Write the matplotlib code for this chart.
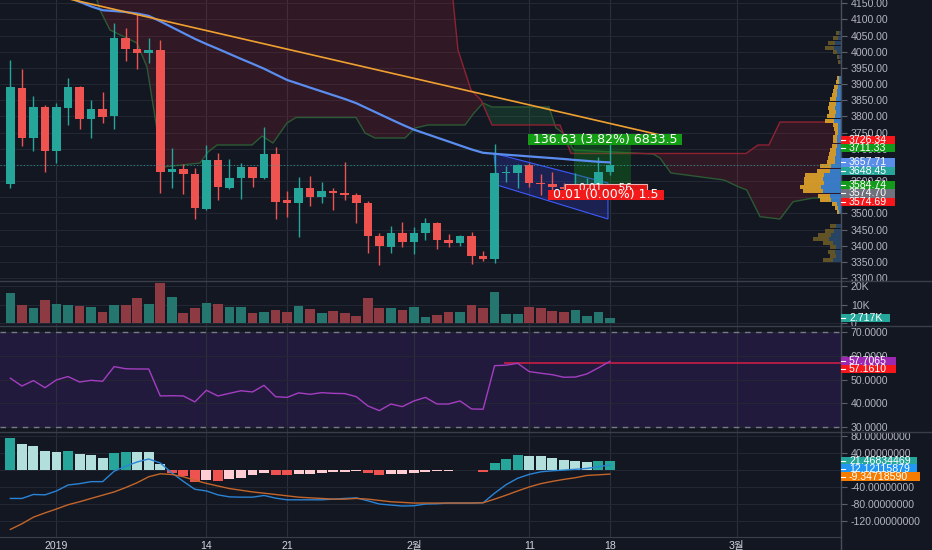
import numpy as np
import matplotlib
matplotlib.use("Agg")
import matplotlib.pyplot as plt
from matplotlib.patches import Rectangle, Polygon
from matplotlib.lines import Line2D
from matplotlib.transforms import IdentityTransform, blended_transform_factory
from matplotlib.ticker import FuncFormatter

plt.rcParams['font.family'] = ['Liberation Sans', 'Noto Sans CJK KR']

# ---------------- data ----------------
day = np.arange(-4, 49)  # 0 = 2019-01-01, daily candles
opens = [3590.9, 3888.9, 3732.3, 3830.1, 3693.0, 3827.0, 3892.0, 3791.1, 3822.0, 3801.3,
         4043.6, 4007.7, 3995.3, 4005.5, 3628.0, 3636.4, 3621.0, 3513.6, 3665.2, 3579.5,
         3610.4, 3642.6, 3608.5, 3683.7, 3541.4, 3533.0, 3577.6, 3551.6, 3570.2, 3564.0,
         3556.9, 3531.2, 3430.0, 3397.0, 3438.4, 3412.4, 3438.4, 3469.3, 3417.6, 3409.3,
         3430.0, 3368.1, 3358.9, 3624.0, 3625.9, 3649.7, 3593.1, 3590.0, 3583.0, 3574.7,
         3584.7, 3591.0, 3627.0]
closes = [3890.1, 3732.3, 3830.1, 3693.0, 3828.2, 3890.1, 3791.1, 3822.0, 3799.1, 4043.6,
          4007.7, 3995.3, 4005.5, 3627.1, 3636.4, 3621.0, 3515.7, 3665.2, 3582.6, 3610.4,
          3642.6, 3608.5, 3683.7, 3536.1, 3533.0, 3577.6, 3551.6, 3570.2, 3564.0, 3556.9,
          3531.2, 3430.0, 3399.1, 3438.4, 3412.4, 3438.4, 3469.3, 3417.6, 3409.3, 3430.0,
          3368.1, 3358.9, 3624.0, 3625.9, 3649.7, 3593.1, 3590.0, 3582.6, 3574.7, 3584.7,
          3591.0, 3627.0, 3648.45]
highs = [3974.6, 3946.7, 3864.1, 3835.3, 3842.5, 3918.0, 3894.0, 3850.8, 3876.5, 4090.0,
         4072.6, 4119.0, 4041.7, 4036.5, 3701.4, 3652.0, 3641.3, 3711.6, 3685.9, 3668.3,
         3656.8, 3644.4, 3768.2, 3704.8, 3570.2, 3611.6, 3615.7, 3598.0, 3577.6, 3658.0,
         3562.1, 3538.3, 3440.2, 3461.0, 3474.3, 3458.8, 3484.8, 3472.4, 3435.3, 3432.0,
         3441.5, 3383.6, 3713.7, 3646.6, 3652.0, 3655.0, 3621.0, 3629.0, 3595.0, 3624.0,
         3608.5, 3675.4, 3716.0]
lows = [3578.5, 3708.5, 3694.0, 3628.0, 3655.0, 3773.5, 3760.2, 3732.3, 3778.7, 3760.2,
        3971.5, 3946.7, 3964.4, 3562.1, 3577.6, 3559.0, 3482.6, 3510.0, 3541.4, 3575.4,
        3543.6, 3582.6, 3605.0, 3482.6, 3489.7, 3427.9, 3523.8, 3533.0, 3510.5, 3541.4,
        3471.2, 3376.5, 3340.3, 3376.5, 3397.0, 3373.4, 3417.6, 3388.9, 3397.0, 3400.0,
        3342.5, 3352.7, 3345.6, 3598.0, 3579.5, 3582.6, 3556.9, 3560.0, 3545.0, 3560.0,
        3570.0, 3585.0, 3618.8]
volumes = [16400, 9650, 8400, 12500, 10500, 9800, 9300, 8700, 6100, 10000,
           9800, 13700, 10300, 21400, 14300, 5700, 8200, 10700, 10500, 8700,
           8700, 5500, 6100, 7100, 6100, 9400, 7800, 5700, 6600, 5500,
           4100, 13400, 8200, 8200, 7100, 8700, 3600, 4500, 5900, 5900,
           9800, 8400, 17000, 4800, 5200, 8700, 8200, 6800, 5900, 7100,
           4100, 6100, 2717]
ma_values = [np.nan, np.nan, np.nan, np.nan,
             4185, 4169, 4154.6, 4140.4, 4128.6, 4126, 4123, 4118.4, 4111, 4094.3,
             4076, 4058, 4040, 4024, 4009, 3993.5, 3978, 3963, 3947.6, 3930,
             3912.7, 3901, 3889, 3877.4, 3865.7, 3854, 3841, 3824.2, 3807.5, 3790.8,
             3774.4, 3759, 3746.8, 3734.5, 3722.4, 3710, 3697.8, 3687.4, 3684.4, 3681.5,
             3679, 3676.3, 3673.6, 3671, 3668.3, 3665.2, 3662.4, 3659.6, 3657.71]
rsi = [50.6, 47.3, 49.6, 46.6, 49.9, 51.3, 49.0, 49.7, 49.3, 55.5,
       54.6, 54.5, 54.5, 43.1, 43.2, 43.1, 40.6, 45.5, 43.1, 44.2,
       45.3, 44.8, 47.6, 42.8, 42.5, 44.4, 43.8, 44.5, 44.2, 44.1,
       42.8, 38.9, 36.9, 39.7, 38.6, 41.0, 42.5, 39.7, 39.7, 41.0,
       37.6, 37.5, 55.9, 56.1, 56.9, 53.4, 52.7, 52.1, 51.0, 51.1,
       52.4, 55.0, 57.7065]
macd_hist = [74.7, 61.5, 56.9, 43.7, 43.0, 45.3, 38.4, 34.5, 29.1, 39.1,
             43.0, 42.5, 41.5, 14.6, -6.2, -14.0, -27.0, -24.0, -25.0, -20.0,
             -17.8, -12.5, -7.9, -11.8, -12.5, -8.6, -8.6, -6.3, -4.9, -3.3,
             -2.5, -7.9, -11.8, -10.2, -8.6, -6.3, -4.0, -2.5, -1.7, 1.3,
             -0.5, -3.3, 16.8, 26.1, 34.5, 34.0, 32.2, 28.4, 23.8, 21.5,
             19.2, 20.6, 21.46834469]
macd_line = [-66.4, -66.4, -57.1, -58.0, -48.8, -34.9, -31.7, -27.0, -27.0, -2.5,
             9.0, 19.2, 26.1, 16.8, -6.3, -26.4, -44.9, -48.8, -58.0, -62.7,
             -63.4, -63.4, -59.4, -65.7, -69.6, -69.6, -69.6, -69.6, -68.0, -66.4,
             -65.0, -71.9, -79.5, -81.8, -84.2, -83.5, -79.5, -78.8, -77.2, -77.2,
             -77.2, -76.5, -54.0, -34.0, -19.0, -10.0, -4.0, -1.5, 0.0, 2.0,
             4.0, 8.0, 12.12115879]
macd_signal = [-139.0, -125.8, -110.3, -100.3, -91.1, -81.2, -74.2, -66.4, -58.7, -51.1,
               -40.9, -29.4, -15.5, -8.6, -10.2, -15.5, -24.0, -31.0, -37.2, -43.2,
               -47.2, -51.1, -54.1, -57.1, -60.3, -63.4, -65.0, -66.4, -68.0, -68.0,
               -66.4, -68.0, -71.0, -74.2, -75.6, -77.2, -77.2, -77.2, -77.2, -77.2,
               -77.2, -76.5, -68.0, -58.7, -48.8, -39.5, -31.7, -26.4, -21.7, -17.8,
               -12.5, -11.0, -9.34718590]

# Ichimoku cloud spans (day, price) vertices
span_a_d = [-5.0, 3.25, 3.51, 3.77, 4.64, 6.98, 7.85, 8.54, 9.24, 12.45, 13.14, 13.92, 16.96,
            17.82, 18.78, 19.99, 20.77, 25.98, 26.76, 27.62, 30.23, 31.09, 32.22, 35.43,
            36.21, 36.99, 37.77, 42.71, 43.32, 43.93, 44.88, 51.74, 52.34, 53.29, 57.89,
            59.19, 59.86, 61.02, 62.75, 63.88, 65.62, 68.1]
span_a_p = [4400, 4191, 4160.2, 4129.3, 4067.4, 4027.2, 3952.9, 3798.2, 3643.5, 3655.9,
            3689.9, 3711.6, 3711.6, 3739.4, 3717.8, 3779.7, 3796.7, 3796.7, 3748.7, 3733.2,
            3733.2, 3764.2, 3773.5, 3773.5, 3810.6, 3841.5, 3829.2, 3829.2, 3764.2, 3748.7,
            3696.1, 3683.7, 3671.4, 3625.0, 3603.3, 3581.6, 3572.4, 3489.7, 3482.6, 3536.1,
            3547.6, 3547.6]
span_b_d = [-5.0, 34.0, 34.22, 34.39, 34.82, 35.95, 36.82, 37.77, 43.67, 44.62, 59.8, 60.84,
            61.79, 62.75, 68.1]
span_b_p = [4400, 4400, 4222, 4160.2, 4005.5, 3881.8, 3850.8, 3773.5, 3773.5, 3685.3,
            3685.3, 3711.6, 3711.6, 3782.7, 3782.7]

# drawings
trend_d = [0.0, 52.35]
trend_p = [4172.5, 3742.5]
channel_d = [37.94, 47.83, 47.83, 38.2]
channel_p = [3685.9, 3594.0, 3482.6, 3587.8]
pos_d = [44.9, 49.8]
pos_entry = 3574.70
pos_target = 3711.33
pos_stop = 3574.69
pos_gain_text = "136.63 (3.82%) 6833.5"
pos_loss_text = "0.01 (0.00%) 1.5"
pos_loss_text2 = "0.01 ... 56"

# volume profile rows
vp_price = [4058, 4043, 4027, 4012, 3999, 3984, 3968, 3919, 3907, 3891, 3879, 3866, 3854,
            3838, 3826, 3814, 3801, 3786, 3774, 3761, 3749, 3736, 3724, 3709, 3696, 3684,
            3671, 3659, 3647, 3631, 3619, 3606, 3594, 3582, 3569, 3554, 3541, 3529, 3517,
            3504, 3461, 3446, 3433, 3421, 3408, 3396, 3381, 3368, 3356]
vp_up = [2, 3, 6, 7, 4, 2, 1, 2, 2, 3, 4, 4, 5, 5, 6, 5, 6, 7, 3, 3, 3, 4, 4, 4, 5, 5, 6,
         6, 10, 11, 17, 18, 17, 20, 18, 11, 10, 4, 3, 2, 5, 7, 10, 12, 8, 5, 6, 5, 8]
vp_down = [3, 5, 7, 9, 4, 2, 2, 2, 3, 4, 4, 5.5, 6, 7, 7, 7, 8, 9, 5, 4, 3, 4, 4, 5.5, 6, 7,
           7, 8, 11, 13, 19, 19, 20, 21, 20, 12, 11, 5.5, 3, 2, 6, 9, 13, 16, 10, 6, 7, 6, 10]
va_low, va_high = 3480, 3935

rsi_level = 57.161
rsi_level_start = 38.8
last_close = 3648.45

date_ticks = [0, 13, 20, 31, 41, 48, 59]
date_labels = ['2019', '14', '21', '2월', '11', '18', '3월']
price_ticks = [3300, 3350, 3400, 3450, 3500, 3550, 3600, 3650, 3700, 3750, 3800, 3850,
               3900, 3950, 4000, 4050, 4100, 4150]
price_ticks_hidden = [3550, 3650]   # labels covered by the price tags
vol_ticks = [0, 10000, 20000]
rsi_ticks = [30, 40, 50, 60, 70]
macd_ticks = [-120, -80, -40, 0, 40, 80]
macd_ticks_hidden = [0]

price_tag_values = [3726.34, 3711.33, 3657.71, 3648.45, 3584.74, 3574.70, 3574.69]
price_tag_colors = ['#f7171a', '#139a1b', '#5a8ee8', '#26a69a', '#139a1b', '#6f727c', '#f7171a']
rsi_tag_values = [57.7065, 57.1610]
rsi_tag_colors = ['#9c27b0', '#f7171a']
macd_tag_values = [21.46834469, 12.12115879, -9.34718590]
macd_tag_colors = ['#26a69a', '#2196f3', '#f57c00']

# ---------------- style ----------------
BG = '#131722'
GRID = '#232733'
VGRID = '#2b2f3b'
TXT = '#b2b5be'
UP = '#26a69a'
DN = '#ef5350'
SEP = '#3a3e4a'
W, H = 932.0, 550.0
AXR = 841.0
XMIN, XMAX = -4.9, 68.04

fig = plt.figure(figsize=(W / 100, H / 100), dpi=100, facecolor=BG)


def pane(top, height):
    return fig.add_axes([0, 1 - (top + height) / H, AXR / W, height / H])


ax_p = pane(0, 281)
ax_v = pane(281, 45)
ax_r = pane(326, 105.7)
ax_m = pane(431.7, 105.6)

for ax in (ax_p, ax_v, ax_r, ax_m):
    ax.set_facecolor(BG)
    for s in ax.spines.values():
        s.set_visible(False)
    ax.set_xlim(XMIN, XMAX)
    ax.set_xticks(date_ticks)
    ax.yaxis.tick_right()
    ax.tick_params(axis='y', labelcolor=TXT, labelsize=7.6, length=4, width=0.8,
                   color='#5d606b', pad=3)
    ax.tick_params(axis='x', length=0, labelbottom=False)
    ax.grid(axis='y', color=GRID, lw=0.8)
    ax.grid(axis='x', color=VGRID, lw=0.8)
    ax.set_axisbelow(True)

o = np.array(opens); c = np.array(closes); hi = np.array(highs); lo = np.array(lows)
up_mask = c >= o
ccol = np.where(up_mask, UP, DN)

# ---- price pane ----
xs = np.linspace(XMIN, XMAX, 3000)
sa = np.interp(xs, span_a_d, span_a_p)
sb = np.interp(xs, span_b_d, span_b_p)
ax_p.fill_between(xs, sa, sb, where=sb >= sa, interpolate=True,
                  color=(0.85, 0.12, 0.2, 0.15), lw=0, zorder=1)
ax_p.fill_between(xs, sa, sb, where=sa > sb, interpolate=True,
                  color=(0.15, 0.7, 0.3, 0.17), lw=0, zorder=1)
ax_p.plot(span_a_d, span_a_p, color='#2c5a34', lw=1, zorder=1.5)
ax_p.plot(span_b_d, span_b_p, color='#8e2233', lw=1, zorder=1.5)

ax_p.add_patch(Polygon(np.column_stack([channel_d, channel_p]), closed=True,
                       facecolor=(0.2, 0.25, 0.8, 0.28), edgecolor='#3d5afe', lw=0.8, zorder=2))
ax_p.add_patch(Rectangle((pos_d[0], pos_entry), pos_d[1] - pos_d[0], pos_target - pos_entry,
                         facecolor=(0.05, 0.6, 0.1, 0.3), edgecolor='none', zorder=2))

ax_p.vlines(day, lo, hi, colors=ccol, lw=1, zorder=3)
ax_p.bar(day, np.maximum(np.abs(c - o), 2.5), bottom=np.minimum(o, c), width=0.74,
         color=ccol, zorder=3.1)

ax_p.plot(day, ma_values, color='#5b8def', lw=1.6, zorder=4)
ax_p.plot(trend_d, trend_p, color='#f0a030', lw=1.2, zorder=4)
ax_p.axhline(last_close, color=UP, lw=0.8, ls=(0, (1, 2)), alpha=0.75, zorder=3.5)

# volume profile on the right edge (x in axes fraction)
tr = blended_transform_factory(ax_p.transAxes, ax_p.transData)
for p, u, dn in zip(vp_price, vp_up, vp_down):
    inside = va_low <= p <= va_high
    cu = '#3a86d6' if inside else '#2b4a6c'
    cd = '#e2a62a' if inside else '#6a5a26'
    fu = u / AXR
    fd = dn / AXR
    ax_p.add_patch(Rectangle((1 - fu, p - 5.6), fu, 11.2, transform=tr, facecolor=cu,
                             edgecolor='none', alpha=0.9, zorder=2.5))
    ax_p.add_patch(Rectangle((1 - fu - fd, p - 5.6), fd, 11.2, transform=tr, facecolor=cd,
                             edgecolor='none', alpha=0.9, zorder=2.5))

ax_p.set_ylim(3290.8, 4160.2)
ax_p.set_yticks(price_ticks)
ax_p.yaxis.set_major_formatter(
    FuncFormatter(lambda v, _: '' if round(v) in price_ticks_hidden else f'{v:.2f}'))

# ---- volume pane ----
vcol = np.where(up_mask, '#25766f', '#8e3a43')
ax_v.bar(day, volumes, width=0.84, color=vcol, zorder=2)
ax_v.set_ylim(-1450, 22700)
ax_v.set_yticks(vol_ticks)
ax_v.yaxis.set_major_formatter(FuncFormatter(lambda v, _: '0' if v == 0 else f'{int(v / 1000)}K'))

# ---- RSI pane ----
ax_r.axhspan(30, 70, color='#221a3d', lw=0, zorder=0.2)
for lvl in (30, 70):
    ax_r.axhline(lvl, color='#787b86', lw=1, ls=(0, (4, 4)), zorder=1)
ax_r.plot(day, rsi, color='#a33ec0', lw=1, zorder=3)
ax_r.hlines(rsi_level, rsi_level_start, XMAX, color='#c81e45', lw=1.2, zorder=2.5)
ax_r.set_ylim(28.0, 72.66)
ax_r.set_yticks(rsi_ticks)
ax_r.yaxis.set_major_formatter(FuncFormatter(lambda v, _: f'{v:.4f}'))

# ---- MACD pane ----
hcols = []
prev = None
for h in macd_hist:
    if h >= 0:
        hcols.append('#26a69a' if (prev is None or h > prev) else '#b2dfdb')
    else:
        hcols.append('#ef5350' if (prev is not None and h < prev) else '#ffcdd2')
    prev = h
ax_m.bar(day, macd_hist, width=0.86, color=hcols, zorder=2)
ax_m.plot(day, macd_line, color='#2a83d4', lw=1, zorder=3)
ax_m.plot(day, macd_signal, color='#c4652a', lw=1, zorder=3)
ax_m.set_ylim(-157.5, 90.1)
ax_m.set_yticks(macd_ticks)
ax_m.yaxis.set_major_formatter(
    FuncFormatter(lambda v, _: '' if round(v) in macd_ticks_hidden else f'{v:.8f}'))
ax_m.tick_params(axis='x', labelbottom=True, labelsize=7.6, labelcolor='#d1d4dc', pad=3)
ax_m.set_xticklabels(date_labels)
ax_m.spines['bottom'].set_visible(True)
ax_m.spines['bottom'].set_color(SEP)

# ---- separators / right axis line ----
for ypx in (281, 326, 431.7):
    fig.add_artist(Line2D([0, 1], [1 - ypx / H, 1 - ypx / H], color=SEP, lw=1,
                          transform=fig.transFigure, zorder=5))
fig.add_artist(Line2D([AXR / W, AXR / W], [0, 1], color='#4a4e59', lw=1,
                      transform=fig.transFigure, zorder=5))


# ---- price-scale tags ----
def tag(ax, value, text, color, dy=0.0, w=54, h=8.4):
    y = ax.transData.transform((0, value))[1] - dy
    fig.add_artist(Rectangle((AXR, y - h / 2), w, h, transform=IdentityTransform(),
                             facecolor=color, edgecolor='none', zorder=20))
    fig.add_artist(Line2D([AXR, AXR + 4], [y, y], transform=IdentityTransform(),
                          color='white', lw=0.8, zorder=21))
    fig.text(849 / W, y / H, text, color='white', fontsize=7.6, va='center', ha='left',
             zorder=22)


price_dy = [0, 3.2, 0, 5.3, -1, 4.1, 12.5]
for v, col, dy in zip(price_tag_values, price_tag_colors, price_dy):
    tag(ax_p, v, f'{v:.2f}', col, dy)
tag(ax_v, volumes[-1], f'{volumes[-1] / 1000:.3f}K', '#26a69a', 0, w=49)
rsi_dy = [0, 6.6]
for v, col, dy in zip(rsi_tag_values, rsi_tag_colors, rsi_dy):
    tag(ax_r, v, f'{v:.4f}', col, dy, w=55)
macd_dy = [0, 3.6, 2.4]
macd_w = [76, 76, 79]
for v, col, dy, w in zip(macd_tag_values, macd_tag_colors, macd_dy, macd_w):
    tag(ax_m, v, f'{v:.8f}', col, dy, w=w)


# ---- position tool labels ----
def box_label(ax, d, p, text, fc, w, h, dy=0.0, ec='none', z=30, fs=9):
    x, y = ax.transData.transform((d, p))
    y -= dy
    fig.add_artist(Rectangle((x - w / 2, y - h / 2), w, h, transform=IdentityTransform(),
                             facecolor=fc, edgecolor=ec, lw=0.8, zorder=z))
    fig.text(x / W, y / H, text, color='white', fontsize=fs, ha='center', va='center',
             family='DejaVu Sans', zorder=z + 1)


mid = (pos_d[0] + pos_d[1]) / 2
box_label(ax_p, mid + 0.25, pos_target, pos_gain_text, '#149c14', 154, 11, dy=-5.6)
box_label(ax_p, mid + 0.3, pos_stop, pos_loss_text2, '#e01515', 82, 8, dy=-0.8,
          ec='#f0b0b0', z=32, fs=7.5)
box_label(ax_p, mid + 0.3, pos_stop, pos_loss_text, '#f21a1a', 116, 10.5, dy=5.6, z=34)

fig.savefig('out.png', dpi=100, facecolor=BG)
